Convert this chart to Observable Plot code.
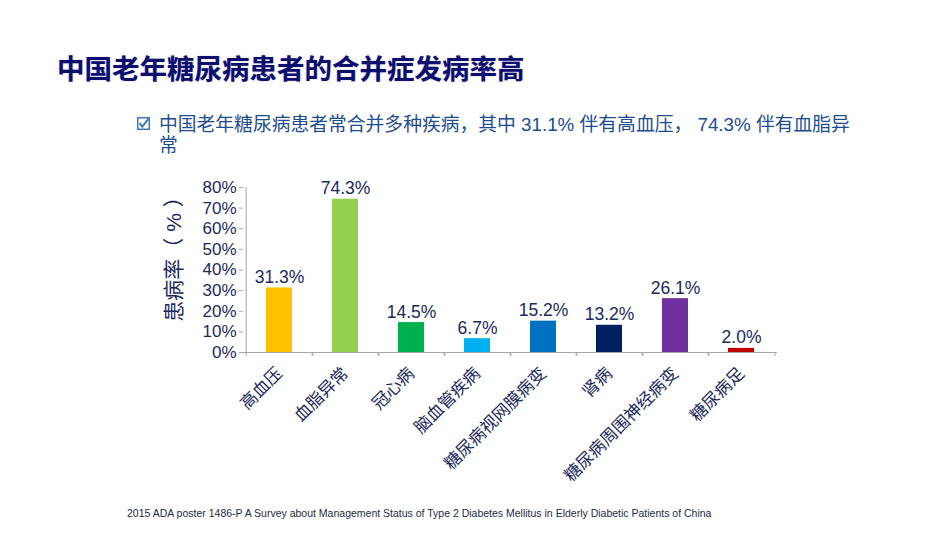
<!DOCTYPE html>
<html>
<head>
<meta charset="utf-8">
<script src="https://cdn.jsdelivr.net/npm/d3@7"></script>
<script src="https://cdn.jsdelivr.net/npm/@observablehq/plot@0.6"></script>
<style>
  html, body { margin: 0; padding: 0; background: #fff; }
  body { width: 950px; height: 535px; position: relative; overflow: hidden;
         font-family: "Liberation Sans", "Noto Sans CJK SC", sans-serif; }
  #title { position: absolute; left: 57px; top: 53px; font: bold 27.5px/28px "Noto Sans CJK SC", sans-serif;
           color: #0e0e6c; text-shadow: 0 0 1.5px rgba(140,140,210,0.7); white-space: nowrap; }
  #bullet { position: absolute; left: 137px; top: 117px; }
  #subtitle { position: absolute; left: 159px; top: 114px; font-size: 18.8px; line-height: 21px;
              color: #1d4d8f; white-space: nowrap; }
  #ylabel { position: absolute; left: 172px; top: 254px; font-size: 21px; color: #1b2a5c;
            transform: translate(-50%, -50%) rotate(-90deg); white-space: nowrap; }
  #chart { position: absolute; left: 0; top: 170px; }
  #source { position: absolute; left: 127px; top: 507px; font-size: 10.5px; color: #222b45; white-space: nowrap; }
</style>
</head>
<body>
<div id="title">中国老年糖尿病患者的合并症发病率高</div>
<svg id="bullet" width="13" height="13" viewBox="0 0 13 13">
  <rect x="0.75" y="0.75" width="11.5" height="11.5" fill="#fff" stroke="#3b78bf" stroke-width="1.5"/>
  <path d="M2.5 6.2 L5.3 9.6 L11.6 1.6" fill="none" stroke="#3b78bf" stroke-width="2"/>
</svg>
<div id="subtitle">中国老年糖尿病患者常合并多种疾病，其中 31.1% 伴有高血压， 74.3% 伴有血脂异<br>常</div>
<div id="ylabel">患病率（ % ）</div>
<div id="chart"></div>
<div id="source">2015 ADA poster 1486-P A Survey about Management Status of Type 2 Diabetes Mellitus in Elderly Diabetic Patients of China</div>

<script>
// Complication categories, prevalence (%) and bar colours
const categories = ["高血压", "血脂异常", "冠心病", "脑血管疾病", "糖尿病视网膜病变", "肾病", "糖尿病周围神经病变", "糖尿病足"];
const prevalence = [31.3, 74.3, 14.5, 6.7, 15.2, 13.2, 26.1, 2.0];
const barColors = ["#FFC000", "#92D050", "#00B050", "#00B0F0", "#0070C0", "#002060", "#7030A0", "#C00000"];
const yTicks = [0, 10, 20, 30, 40, 50, 60, 70, 80];

const data = categories.map((name, i) => ({name, value: prevalence[i], color: barColors[i]}));

const width = 950, height = 330;
const marginLeft = 243, marginRight = 173, marginTop = 17, marginBottom = 148;
const step = (width - marginLeft - marginRight) / categories.length;
const ink = "#1b2a5c", axisGray = "#a6a6a6";

const chart = Plot.plot({
  width, height, marginLeft, marginRight, marginTop, marginBottom,
  style: {fontFamily: '"Liberation Sans", "Noto Sans CJK SC", sans-serif', background: "transparent"},
  x: {domain: categories, paddingInner: 0.6, paddingOuter: 0.3, label: null},
  y: {domain: [0, 80], label: null},
  color: {type: "identity"},
  marks: [
    Plot.barY(data, {x: "name", y: "value", fill: "color"}),
    // value labels above each bar
    Plot.text(data, {x: "name", y: "value", text: d => d.value.toFixed(1) + "%",
      lineAnchor: "bottom", dy: -5, fontSize: 17.5, fill: ink}),
    // axis lines
    Plot.ruleY([0], {stroke: axisGray}),
    Plot.ruleX([categories[0]], {y1: 0, y2: 80, dx: -step / 2, stroke: axisGray}),
    // y ticks and labels
    Plot.axisY(yTicks, {tickSize: 4, tickFormat: () => "", color: axisGray}),
    Plot.axisY(yTicks, {tickSize: 0, tickPadding: 7, tickFormat: d => d + "%", fontSize: 17, color: ink}),
    // category boundary ticks
    Plot.axisX({tickSize: 4, tickFormat: () => "", dx: -step / 2, color: axisGray}),
    Plot.axisX({tickSize: 4, tickFormat: () => "", dx: step / 2, color: axisGray}),
    // rotated category labels
    Plot.axisX({tickSize: 0, tickPadding: 18, dx: 0, tickRotate: -45, fontSize: 17, color: ink})
  ]
});
document.getElementById("chart").appendChild(chart);
</script>
</body>
</html>
